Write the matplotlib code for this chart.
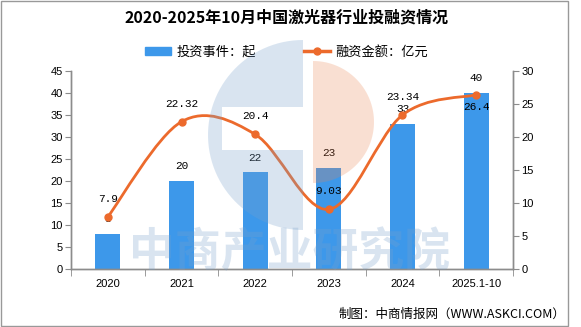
import numpy as np
import matplotlib
matplotlib.use('Agg')
import matplotlib.pyplot as plt
from matplotlib.path import Path
from matplotlib.patches import PathPatch, Patch, Polygon, Rectangle
from matplotlib.lines import Line2D

plt.rcParams['font.family'] = ['Noto Sans CJK SC', 'DejaVu Sans']

# 数据
years = ['2020', '2021', '2022', '2023', '2024', '2025.1-10']
events = [8, 20, 22, 23, 33, 40]              # 投资事件：起
amount = [7.9, 22.32, 20.4, 9.03, 23.34, 26.4]  # 融资金额：亿元

bar_color = '#3D98EA'
line_color = '#EC6A2C'
axis_color = '#8C8C8C'
W, H = 581, 327

fig = plt.figure(figsize=(W / 100, H / 100), dpi=100)
ax = fig.add_axes([71 / W, 1 - 269 / H, (513 - 71) / W, (269 - 71) / H])
ax2 = ax.twinx()

x = np.arange(len(years))
ax.bar(x, events, width=0.34, color=bar_color, zorder=2)

# 平滑曲线 (Catmull-Rom -> Bezier)
pts = list(zip(x, amount))
verts = [pts[0]]
codes = [Path.MOVETO]
for i in range(len(pts) - 1):
    p0 = pts[i - 1] if i > 0 else pts[i]
    p1 = pts[i]
    p2 = pts[i + 1]
    p3 = pts[i + 2] if i + 2 < len(pts) else pts[i + 1]
    c1 = (p1[0] + (p2[0] - p0[0]) / 6, p1[1] + (p2[1] - p0[1]) / 6)
    c2 = (p2[0] - (p3[0] - p1[0]) / 6, p2[1] - (p3[1] - p1[1]) / 6)
    verts += [c1, c2, p2]
    codes += [Path.CURVE4] * 3
ax2.add_patch(PathPatch(Path(verts, codes), fill=False, edgecolor=line_color,
                        lw=2.0, zorder=3, capstyle='round'))
ax2.plot(x, amount, 'o', color=line_color, markersize=5, zorder=4)

# 坐标轴
ax.set_xlim(-0.5, len(years) - 0.5)
ax.set_ylim(0, 45)
ax.set_yticks(np.arange(0, 46, 5))
ax2.set_ylim(0, 30)
ax2.set_yticks(np.arange(0, 31, 5))
ax.set_xticks(x)
ax.set_xticklabels(years, fontfamily='Liberation Sans', fontsize=8)
ax.set_xticks(np.arange(-0.5, len(years), 1), minor=True)
ax.tick_params(axis='x', which='major', length=0, pad=7)
ax.tick_params(axis='x', which='minor', length=5, color=axis_color, direction='out')
ax.tick_params(axis='y', length=4, color=axis_color, pad=2, labelsize=8)
ax2.tick_params(axis='y', length=4, color=axis_color, pad=2, labelsize=8)
for lab in ax.get_yticklabels() + ax2.get_yticklabels():
    lab.set_fontfamily('Liberation Sans')
for a in (ax, ax2):
    a.spines['top'].set_visible(False)
    for s in ('left', 'right', 'bottom'):
        a.spines[s].set_color(axis_color)
        a.spines[s].set_linewidth(1)

# 数据标签
for xi, v in zip(x, events):
    ax.annotate(str(v), (xi, v), xytext=(0, 10.5), textcoords='offset points',
                ha='center', va='center', fontsize=8, fontfamily='Liberation Mono', zorder=5)
for xi, v in zip(x, amount):
    dy = -9 if v == amount[-1] else 13
    ax2.annotate(f'{v:g}', (xi, v), xytext=(0, dy), textcoords='offset points',
                 ha='center', va='center', fontsize=8, fontfamily='Liberation Mono', zorder=5)

# 标题与图例
fig.text(0.493, 1 - 17 / H, '2020-2025年10月中国激光器行业投融资情况',
         ha='center', va='center', fontsize=11.5, fontweight='bold')
handles = [Patch(color=bar_color),
           Line2D([], [], color=line_color, lw=2.5, marker='o', markersize=5)]
fig.legend(handles, ['投资事件：起', '融资金额：亿元'], loc='center',
           bbox_to_anchor=(0.493, 1 - 52 / H), ncol=2, frameon=False,
           fontsize=9.5, handlelength=2.0, handleheight=0.6,
           handletextpad=0.4, columnspacing=3.6)

fig.text(565 / W, 1 - 314 / H, '制图：中商情报网（WWW.ASKCI.COM）',
         ha='right', va='center', fontsize=9)

# 水印
def fp(px, py):
    return (px / W, 1 - py / H)

cx, cy, r = 303, 135, 95
arc = [fp(cx + r * np.cos(t), cy - r * np.sin(t)) for t in np.linspace(np.pi / 2, 3 * np.pi / 2, 60)]
blue_shape = arc + [fp(cx, 150), fp(222, 150), fp(222, 107), fp(cx, 107)]
fig.patches.append(Polygon(blue_shape, closed=True, transform=fig.transFigure,
                           facecolor=(0.47, 0.63, 0.80), alpha=0.28, edgecolor='none', zorder=6))
ocx, ocy, orr = 313, 122, 61
arc2 = [fp(ocx + orr * np.cos(t), ocy - orr * np.sin(t)) for t in np.linspace(np.pi / 2, -np.pi / 2, 60)]
fig.patches.append(Polygon(arc2, closed=True, transform=fig.transFigure,
                           facecolor=(0.92, 0.51, 0.31), alpha=0.25, edgecolor='none', zorder=6))
fig.text(290 / W, 1 - 253 / H, '中商产业研究院', ha='center', va='center',
         fontsize=33, fontweight='bold', color=(0.47, 0.63, 0.80), alpha=0.28, zorder=6)

# 外框
fig.patches.append(Rectangle((1 / W, 1 / H), 567 / W, 1 - 2 / H, transform=fig.transFigure,
                             fill=False, edgecolor='#999999', lw=1, zorder=7))

fig.savefig('out.png', dpi=100)
